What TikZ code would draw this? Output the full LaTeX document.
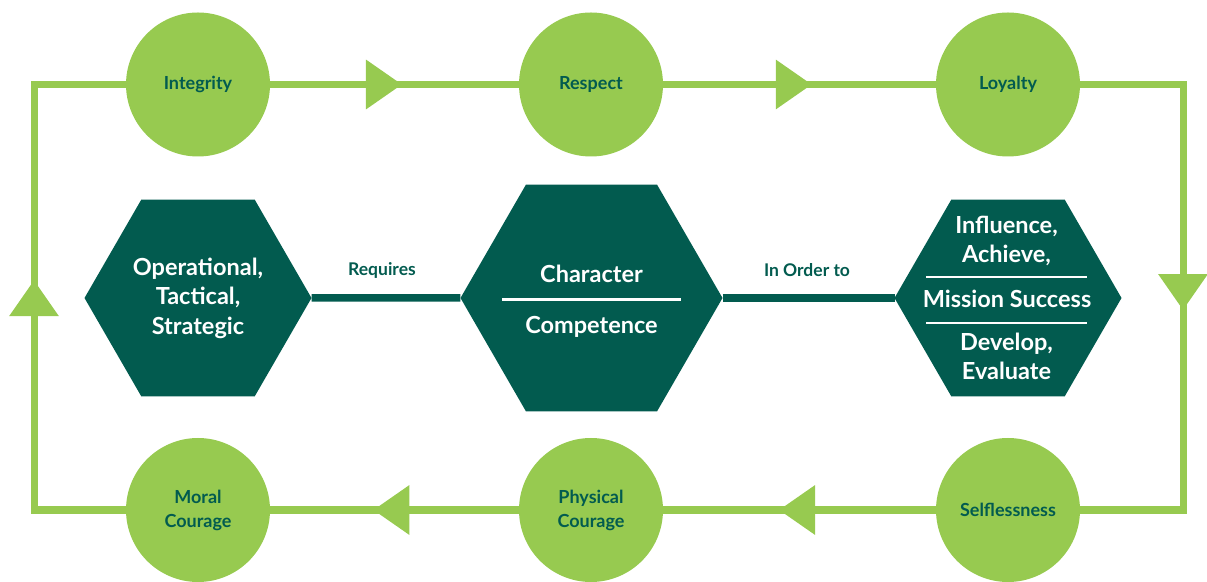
\documentclass[tikz,border=0pt]{standalone}
\usepackage{fontspec}
\setmainfont{Lato}
\usetikzlibrary{shapes.geometric,arrows.meta,decorations.markings,positioning,backgrounds}
\definecolor{leaf}{RGB}{151,202,80}
\definecolor{pine}{RGB}{2,91,79}

\begin{document}
\begin{tikzpicture}[x=1pt,y=1pt,
    every node/.append style={align=center},
    value/.style={circle, fill=leaf, minimum size=144pt, inner sep=0pt,
                  text=pine, font=\bfseries\fontsize{18}{24}\selectfont},
    hexa/.style={regular polygon, regular polygon sides=6, fill=pine,
                 minimum size=#1, inner sep=0pt, outer sep=0pt},
    flow/.style={draw=leaf, line width=7pt, line cap=rect},
    flowtip/.style={flow, postaction={decorate}, decoration={markings,
        mark=at position #1 with {\arrow[leaf]{Triangle[length=36pt,width=48pt]}}}},
    link/.style={draw=pine, line width=7.5pt},
    rule/.style={fill=white, minimum width=#1, minimum height=2.5pt, inner sep=0pt},
    intext/.style={text=white, font=\bfseries\fontsize{23.5}{29.5}\selectfont},
    verb/.style={text=pine, font=\bfseries\fontsize{17.5}{21}\selectfont}]

    \useasboundingbox (0,0) rectangle (1207,581);

    % the six values round the loop
    \node[value] (integrity) at (198,496.5) {Integrity};
    \node[value] (respect)   at (591,496.5) {Respect};
    \node[value] (loyalty)   at (1008,496.5) {Loyalty};
    \node[value] (selfless)  at (1008,71) {Selflessness};
    \node[value] (physical)  at (591,71) {Physical\\Courage};
    \node[value] (moral)     at (198,71) {Moral\\Courage};

    \coordinate (cornerTL) at (34,496.5);
    \coordinate (cornerTR) at (1183,496.5);
    \coordinate (cornerBR) at (1183,71);
    \coordinate (cornerBL) at (34,71);

    \begin{pgfonlayer}{background}
        \draw[flowtip=.53] (integrity) -- (respect);
        \draw[flowtip=.545] (respect) -- (loyalty);
        \draw[flow] (loyalty) -- (cornerTR);
        \draw[flowtip=.53] (cornerTR) -- (cornerBR);
        \draw[flow] (cornerBR) -- (selfless);
        \draw[flowtip=.575] (selfless) -- (physical);
        \draw[flowtip=.585] (physical) -- (moral);
        \draw[flow] (moral) -- (cornerBL);
        \draw[flowtip=.54] (cornerBL) -- (cornerTL);
        \draw[flow] (cornerTL) -- (integrity);
    \end{pgfonlayer}

    % the three hexagons in the middle
    \node[hexa=227pt, intext] (levels) at (198,283) {Operational,\\Tactical,\\Strategic};
    \node[hexa=262pt] (core) at (591.5,283) {};
    \node[hexa=227pt] (aims) at (1008,283) {};

    \draw[link] (levels) -- (core);
    \draw[link] (core) -- (aims);
    \node[verb] (requires) at (382,311) {Requires};
    \node[verb] (inorder) at (807,311) {In Order to};

    \node[rule=179pt] (coreRule) at (591.5,281.5) {};
    \node[intext, above=12pt of coreRule] (character) {Character};
    \node[intext, below=12pt of coreRule] (competence) {Competence};

    \node[rule=161pt] (aimsRuleA) at (1006.5,304) {};
    \node[rule=161pt] (aimsRuleB) at (1006.5,258) {};
    \node[intext] (mission) at (1007,282) {Mission Success};
    \node[intext, above=6pt of aimsRuleA] (influence) {Influence,\\Achieve,};
    \node[intext, below=5pt of aimsRuleB] (develop) {Develop,\\Evaluate};
\end{tikzpicture}
\end{document}
